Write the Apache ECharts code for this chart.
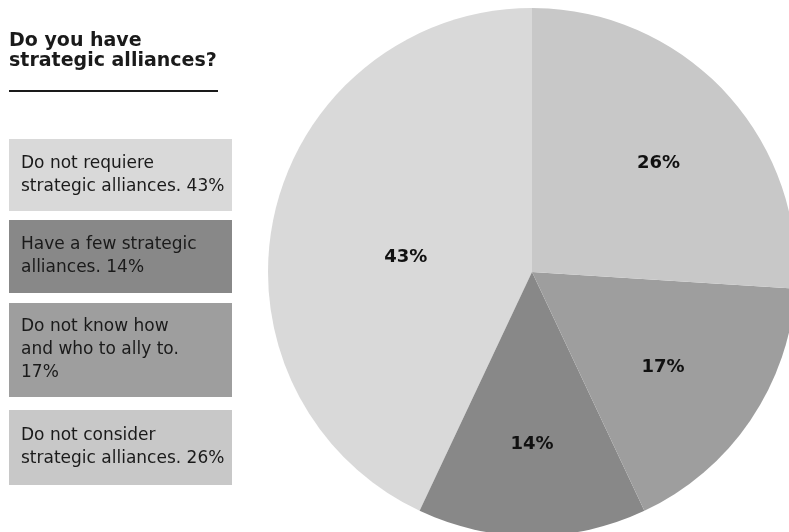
<!DOCTYPE html>
<html>
<head>
<meta charset="utf-8">
<script src="https://cdn.jsdelivr.net/npm/echarts@6/dist/echarts.min.js"></script>
<style>
  html, body { margin: 0; padding: 0; background: #ffffff; }
  #chart { width: 789px; height: 532px; }
</style>
</head>
<body>
<div id="chart"></div>
<script>
// Survey answers, in legend order (pie runs counter-clockwise from the top)
const categories = [
  'Do not requiere\nstrategic alliances.',
  'Have a few strategic\nalliances.',
  'Do not know how\nand who to ally to.\n',
  'Do not consider\nstrategic alliances.'
];
const values = [43, 14, 17, 26];
const sliceColors = ['#d9d9d9', '#888888', '#9e9e9e', '#c8c8c8'];
const titleText = 'Do you have\nstrategic alliances?';

const FONT = '"DejaVu Sans", "Open Sans", sans-serif';
const center = [532, 272];
const radius = 264;

// legend boxes: top edge and height of each box
const boxTops = [139, 220, 303, 410];
const boxHeights = [72, 73, 94, 75];

// nudges for the percentage labels inside the slices:
// horizontal text padding [right, left] and a downward shift in px
const labelPadX = [[0, 78], [0, 0], [18, 0], [0, 6]];
const labelDropY = [22, 3, 0, 7];

function legendText(i) {
  const c = categories[i];
  return c.endsWith('\n') ? c + values[i] + '%' : c + ' ' + values[i] + '%';
}

const legendGraphics = categories.map((c, i) => ({
  type: 'group',
  left: 9,
  top: boxTops[i],
  children: [
    {
      type: 'rect',
      shape: { x: 0, y: 0, width: 223, height: boxHeights[i] },
      style: { fill: sliceColors[i] }
    },
    {
      type: 'text',
      x: 12,
      y: boxHeights[i] / 2,
      style: {
        text: legendText(i),
        font: '17px ' + FONT,
        fill: '#1a1a1a',
        lineHeight: 23,
        verticalAlign: 'middle',
        align: 'left'
      }
    }
  ]
}));

const pieData = categories.map((c, i) => ({
  name: c,
  value: values[i],
  itemStyle: { color: sliceColors[i] }
}));

const chart = echarts.init(document.getElementById('chart'), null, { renderer: 'canvas' });
chart.setOption({
  backgroundColor: '#ffffff',
  animation: false,
  graphic: [
    {
      type: 'text',
      left: 9,
      top: 31,
      style: {
        text: titleText,
        font: 'bold 19px ' + FONT,
        fill: '#1a1a1a',
        lineHeight: 20
      }
    },
    {
      type: 'line',
      shape: { x1: 9, y1: 91, x2: 218, y2: 91 },
      style: { stroke: '#1a1a1a', lineWidth: 2 }
    },
    ...legendGraphics
  ],
  series: [
    {
      type: 'pie',
      center: center,
      radius: radius,
      startAngle: 90,
      clockwise: false,
      silent: true,
      label: { show: false },
      labelLine: { show: false },
      itemStyle: { borderWidth: 0 },
      data: pieData
    },
    {
      // invisible twin pie whose inside labels sit at ~63% of the drawn radius
      type: 'pie',
      center: center,
      radius: radius * 1.26,
      startAngle: 90,
      clockwise: false,
      silent: true,
      itemStyle: { color: 'rgba(0,0,0,0)', borderWidth: 0 },
      label: {
        show: true,
        position: 'inside',
        formatter: p => (labelDropY[p.dataIndex] ? '\n' : '') + p.value + '%',
        fontWeight: 'bold',
        fontSize: 18,
        fontFamily: FONT,
        color: '#111111'
      },
      labelLine: { show: false },
      data: values.map((v, i) => ({
        name: categories[i],
        value: v,
        label: {
          padding: [0, labelPadX[i][0], 0, labelPadX[i][1]],
          lineHeight: labelDropY[i] ? labelDropY[i] * 2 : 22
        }
      }))
    }
  ]
});
</script>
</body>
</html>
